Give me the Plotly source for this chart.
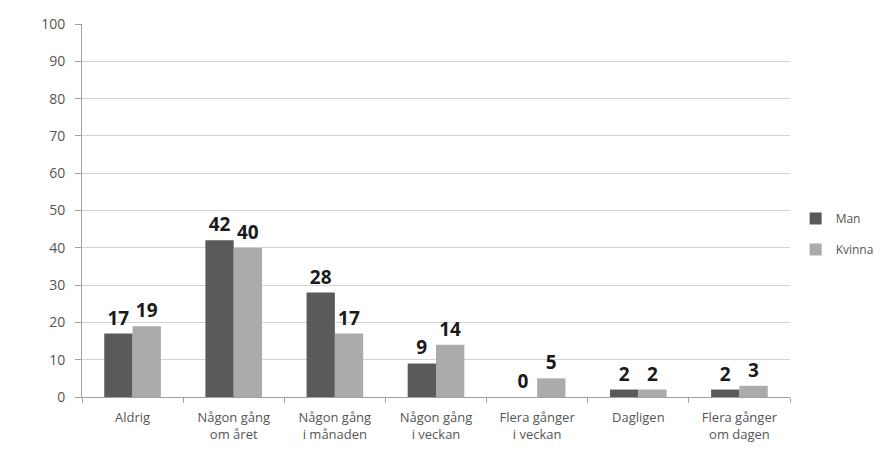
import plotly.graph_objects as go

categories = [
    "Aldrig",
    "Någon gång<br>om året",
    "Någon gång<br>i månaden",
    "Någon gång<br>i veckan",
    "Flera gånger<br>i veckan",
    "Dagligen",
    "Flera gånger<br>om dagen",
]
man = [17, 42, 28, 9, 0, 2, 2]
kvinna = [19, 40, 17, 14, 5, 2, 3]

# the page body adds an 8px offset, so margins are trimmed by that amount
label_font = dict(family="Open Sans", size=19, color="#1a1a1a", weight="bold")

fig = go.Figure()
fig.add_trace(go.Bar(
    x=categories, y=man, name="Man", legendgroup="m",
    marker=dict(color="#5a5a5a", line=dict(width=0)),
    text=[str(v) for v in man], textposition="outside",
    textfont=label_font, cliponaxis=False, constraintext="none",
))
fig.add_trace(go.Bar(
    x=categories, y=kvinna, name="Kvinna", legendgroup="k",
    marker=dict(color="#ababab", line=dict(width=0)),
    text=[str(v) for v in kvinna], textposition="outside",
    textfont=label_font, cliponaxis=False, constraintext="none",
))

fig.update_layout(
    width=884, height=454,
    margin=dict(l=74, r=102, t=16, b=65, autoexpand=False),
    paper_bgcolor="white", plot_bgcolor="white",
    barmode="group", bargap=0.44, bargroupgap=0,
    font=dict(family="Open Sans", size=12, color="#555555"),
    showlegend=True,
    legend=dict(
        x=0.891, y=0.502, xref="container", yref="container",
        xanchor="left", yanchor="middle",
        font=dict(size=12, color="#555555"),
        tracegroupgap=12, itemwidth=30,
    ),
    xaxis=dict(
        automargin=False,
        showline=True, linecolor="#a0a0a0", linewidth=1,
        ticks="outside", tickson="boundaries", ticklen=5, tickcolor="#a0a0a0",
        showgrid=False, tickfont=dict(size=13, color="#555555"),
        ticklabelstandoff=8,
    ),
    yaxis=dict(
        automargin=False,
        range=[0, 100], dtick=10,
        showline=True, linecolor="#a0a0a0", linewidth=1,
        ticks="outside", ticklen=6, tickcolor="#a0a0a0",
        showgrid=True, gridcolor="#d4d4d4", gridwidth=1,
        zeroline=False, tickfont=dict(size=14, color="#555555"),
        ticklabelstandoff=7,
    ),
)

fig.write_html("out.html")
